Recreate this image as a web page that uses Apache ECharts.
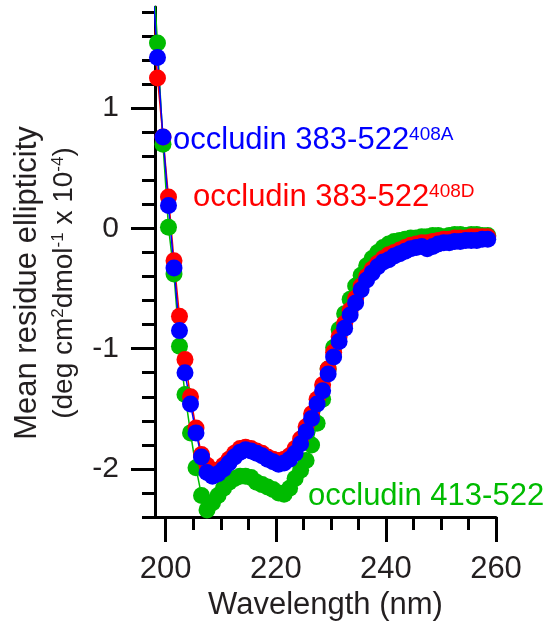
<!DOCTYPE html>
<html><head><meta charset="utf-8">
<script src="https://cdn.jsdelivr.net/npm/echarts@6/dist/echarts.min.js"></script>
<style>html,body{margin:0;padding:0;background:#fff}#c{width:554px;height:626px}</style>
</head><body><div id="c"></div>
<script>
// Wavelength (nm)
const wavelength = [197.5,198.5,199.5,200.5,201.5,202.5,203.5,204.5,205.5,206.5,
  207.5,208.5,209.5,210.5,211.5,212.5,213.5,214.5,215.5,216.5,
  217.5,218.5,219.5,220.5,221.5,222.5,223.5,224.5,225.5,226.5,
  227.5,228.5,229.5,230.5,231.5,232.5,233.5,234.5,235.5,236.5,
  237.5,238.5,239.5,240.5,241.5,242.5,243.5,244.5,245.5,246.5,
  247.5,248.5,249.5,250.5,251.5,252.5,253.5,254.5,255.5,256.5,
  257.5,258.5];
// occludin 413-522 (green)
const occ413 = [2.30,1.54,0.70,0.01,-0.38,-0.98,-1.38,-1.70,-1.99,-2.22,
  -2.34,-2.28,-2.22,-2.16,-2.11,-2.08,-2.06,-2.06,-2.07,-2.11,
  -2.13,-2.15,-2.17,-2.20,-2.21,-2.16,-2.08,-2.01,-1.93,-1.80,
  -1.62,-1.42,-1.17,-0.99,-0.84,-0.71,-0.59,-0.48,-0.39,-0.31,
  -0.25,-0.20,-0.16,-0.13,-0.11,-0.10,-0.09,-0.08,-0.08,-0.07,
  -0.07,-0.06,-0.06,-0.07,-0.06,-0.05,-0.05,-0.06,-0.05,-0.05,
  -0.06,-0.06];
// occludin 383-522 408D (red)
const occ408D = [1.80,1.25,0.76,0.26,-0.27,-0.73,-1.09,-1.40,-1.66,-1.88,
  -1.97,-2.01,-2.01,-1.97,-1.92,-1.87,-1.83,-1.82,-1.83,-1.85,
  -1.87,-1.90,-1.92,-1.93,-1.92,-1.89,-1.83,-1.75,-1.65,-1.54,
  -1.42,-1.30,-1.17,-1.03,-0.90,-0.79,-0.68,-0.58,-0.48,-0.40,
  -0.34,-0.29,-0.25,-0.22,-0.20,-0.18,-0.16,-0.14,-0.13,-0.12,
  -0.12,-0.11,-0.10,-0.09,-0.09,-0.08,-0.08,-0.08,-0.07,-0.07,
  -0.07,-0.07];
// occludin 383-522 408A (blue)
const occ408A = [2.10,1.42,0.76,0.19,-0.33,-0.85,-1.20,-1.46,-1.70,-1.90,
  -2.03,-2.06,-2.04,-2.00,-1.95,-1.90,-1.86,-1.84,-1.85,-1.87,
  -1.89,-1.92,-1.94,-1.96,-1.95,-1.92,-1.87,-1.79,-1.69,-1.58,
  -1.46,-1.35,-1.21,-1.07,-0.94,-0.83,-0.72,-0.62,-0.51,-0.43,
  -0.37,-0.32,-0.28,-0.26,-0.23,-0.21,-0.19,-0.17,-0.16,-0.15,
  -0.17,-0.15,-0.13,-0.12,-0.12,-0.11,-0.11,-0.10,-0.10,-0.10,
  -0.09,-0.09];

const xMajorTicks = [200, 220, 240, 260];
const xMinorTicks = [200,205,210,215,220,225,230,235,240,245,250,255,260];
const yMajorTicks = [-2, -1, 0, 1];
const yMinorTicks = [-2.4,-2.2,-2.0,-1.8,-1.6,-1.4,-1.2,-1.0,-0.8,-0.6,-0.4,-0.2,0,0.2,0.4,0.6,0.8,1.0,1.2,1.4,1.6,1.8];

const FONT = '"Liberation Sans", Arial, sans-serif';
const TXT = '#231f20';
const GREEN = '#00bb00', RED = '#ff0000', BLUE = '#0000ff';
const X_MIN = 198.05, X_MAX = 260, Y_MIN = -2.4, Y_MAX = 1.84;

function pairs(ys) { return wavelength.map((x, i) => [x, ys[i]]); }
function mkSeries(name, ys, color) {
  return {
    name, type: 'line', data: pairs(ys), xAxisIndex: 0, yAxisIndex: 0,
    symbol: 'circle', symbolSize: 17, showSymbol: true, showAllSymbol: true,
    clip: true, animation: false,
    lineStyle: { color, width: 1.5 }, itemStyle: { color },
    emphasis: { disabled: true }
  };
}
const tickStyle = { color: '#000', width: 3 };

const chart = echarts.init(document.getElementById('c'), null, { renderer: 'canvas' });
chart.setOption({
  animation: false,
  backgroundColor: '#fff',
  grid: { left: 155, top: 7, width: 341, height: 513 },
  xAxis: [
    { type: 'value', min: X_MIN, max: X_MAX, position: 'bottom',
      axisLine: { show: true, onZero: false, lineStyle: tickStyle },
      axisTick: { show: true, customValues: xMinorTicks, length: 13, lineStyle: tickStyle },
      axisLabel: { show: false }, splitLine: { show: false } },
    { type: 'value', min: X_MIN, max: X_MAX, position: 'bottom',
      axisLine: { show: false, onZero: false },
      axisTick: { show: true, customValues: xMajorTicks, length: 25, lineStyle: tickStyle },
      axisLabel: { show: true, customValues: xMajorTicks, fontSize: 31, fontFamily: FONT, color: TXT, margin: 37 },
      splitLine: { show: false },
      name: 'Wavelength (nm)', nameLocation: 'middle', nameGap: 64,
      nameTextStyle: { fontSize: 31, fontFamily: FONT, color: TXT } }
  ],
  yAxis: [
    { type: 'value', min: Y_MIN, max: Y_MAX, position: 'left',
      axisLine: { show: true, onZero: false, lineStyle: tickStyle },
      axisTick: { show: true, customValues: yMinorTicks, length: 13, lineStyle: tickStyle },
      axisLabel: { show: false }, splitLine: { show: false } },
    { type: 'value', min: Y_MIN, max: Y_MAX, position: 'left',
      axisLine: { show: false, onZero: false },
      axisTick: { show: true, customValues: yMajorTicks, length: 24, lineStyle: tickStyle },
      axisLabel: { show: true, customValues: yMajorTicks, fontSize: 30, fontFamily: FONT, color: TXT, margin: 36,
        formatter: v => String(v) },
      splitLine: { show: false } }
  ],
  series: [
    mkSeries('occludin 413-522', occ413, GREEN),
    mkSeries('occludin 383-522 408D', occ408D, RED),
    mkSeries('occludin 383-522 408A', occ408A, BLUE)
  ],
  graphic: [
    { type: 'text', x: 27, y: 283, rotation: Math.PI / 2, silent: true,
      style: { text: 'Mean residue ellipticity', fontSize: 31, fontFamily: FONT, fill: TXT,
        align: 'center', verticalAlign: 'middle' } },
    { type: 'text', x: 64, y: 283, rotation: Math.PI / 2, silent: true,
      style: { text: '(deg cm{s|2}dmol{s|-1} x 10{s|-4})', fontSize: 28, fontFamily: FONT, fill: TXT,
        align: 'center', verticalAlign: 'middle',
        rich: { s: { fontSize: 17, fontFamily: FONT, fill: TXT, verticalAlign: 'top' } } } },
    { type: 'text', x: 173, y: 125, silent: true, z: 100,
      style: { text: 'occludin 383-522{s|408A}', fontSize: 31, fontFamily: FONT, fill: BLUE,
        align: 'left', verticalAlign: 'top',
        rich: { s: { fontSize: 19, fontFamily: FONT, fill: BLUE, verticalAlign: 'top' } } } },
    { type: 'text', x: 193, y: 182, silent: true, z: 100,
      style: { text: 'occludin 383-522{s|408D}', fontSize: 31, fontFamily: FONT, fill: RED,
        align: 'left', verticalAlign: 'top',
        rich: { s: { fontSize: 19, fontFamily: FONT, fill: RED, verticalAlign: 'top' } } } },
    { type: 'text', x: 308, y: 481, silent: true, z: 100,
      style: { text: 'occludin 413-522', fontSize: 31, fontFamily: FONT, fill: GREEN,
        align: 'left', verticalAlign: 'top' } }
  ]
});
</script>
</body></html>
